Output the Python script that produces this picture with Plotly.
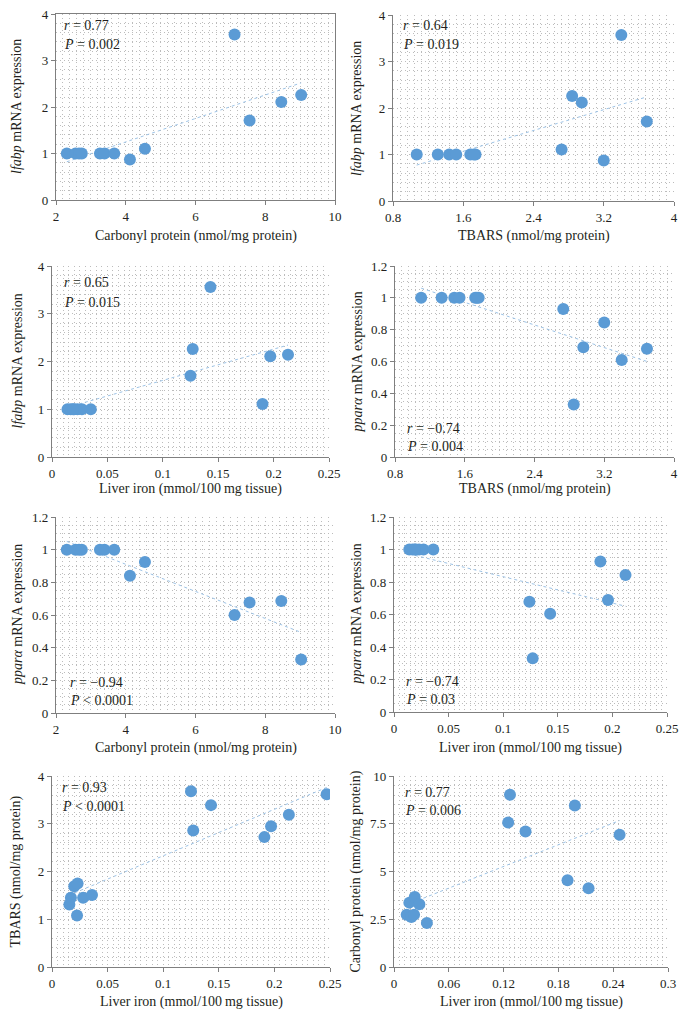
import numpy as np
import plotly.graph_objects as go

W, H = 684, 1017

# panel 1: carbonyl protein vs lfabp
carb_a = [2.31, 2.56, 2.66, 2.74, 3.26, 3.39, 3.67, 4.12, 4.55, 7.12, 7.55, 8.46, 9.03]
lfabp_a = [1.0, 1.0, 1.0, 1.0, 1.0, 1.0, 1.0, 0.87, 1.1, 3.56, 1.71, 2.11, 2.26]

# panel 2: TBARS vs lfabp
tbars_b = [1.07, 1.31, 1.44, 1.52, 1.68, 1.74, 1.72, 2.72, 2.84, 2.95, 3.20, 3.40, 3.69]
lfabp_b = [1.0, 1.0, 1.0, 1.0, 1.0, 1.0, 1.0, 1.11, 2.26, 2.12, 0.87, 3.57, 1.71]

# panel 3: liver iron vs lfabp
iron_c = [0.014, 0.017, 0.020, 0.023, 0.027, 0.035, 0.019, 0.125, 0.127, 0.143, 0.190, 0.197, 0.213]
lfabp_c = [1.0, 1.0, 1.0, 1.0, 1.0, 1.0, 1.0, 1.70, 2.26, 3.56, 1.11, 2.11, 2.14]

# panel 4: TBARS vs ppara
tbars_d = [1.10, 1.335, 1.48, 1.54, 1.72, 1.76, 1.74, 2.73, 2.85, 2.96, 3.20, 3.40, 3.69]
ppara_d = [1.0, 1.0, 1.0, 1.0, 1.0, 1.0, 1.0, 0.93, 0.33, 0.69, 0.845, 0.61, 0.68]

# panel 5: carbonyl protein vs ppara
carb_e = [2.31, 2.56, 2.66, 2.74, 3.26, 3.39, 3.67, 4.12, 4.55, 7.12, 7.55, 8.46, 9.03]
ppara_e = [1.0, 1.0, 1.0, 1.0, 1.0, 1.0, 1.0, 0.84, 0.925, 0.60, 0.676, 0.686, 0.327]

# panel 6: liver iron vs ppara
iron_f = [0.014, 0.017, 0.020, 0.023, 0.027, 0.036, 0.019, 0.124, 0.127, 0.143, 0.189, 0.196, 0.212]
ppara_f = [1.0, 1.0, 1.0, 1.0, 1.0, 1.0, 1.0, 0.679, 0.33, 0.605, 0.926, 0.689, 0.843]

# panel 7: liver iron vs TBARS
iron_g = [0.125, 0.143, 0.127, 0.191, 0.197, 0.213, 0.247, 0.020, 0.023, 0.017, 0.028, 0.036, 0.0156, 0.0225]
tbars_g = [3.68, 3.39, 2.86, 2.72, 2.95, 3.19, 3.62, 1.69, 1.75, 1.45, 1.45, 1.51, 1.31, 1.08]

# panel 8: liver iron vs carbonyl protein
iron_h = [0.127, 0.198, 0.125, 0.144, 0.247, 0.190, 0.213, 0.0168, 0.0227, 0.0278, 0.0139, 0.019, 0.022, 0.036]
carb_h = [9.02, 8.46, 7.56, 7.10, 6.93, 4.54, 4.12, 3.37, 3.66, 3.28, 2.74, 2.62, 2.74, 2.30]

r_text = ["0.77", "0.64", "0.65", "\u22120.74", "\u22120.94", "\u22120.74", "0.93", "0.77"]
p_text = ["= 0.002", "= 0.019", "= 0.015", "= 0.004", "< 0.0001", "= 0.03", "< 0.0001", "= 0.006"]

lfabp_title = "<i>lfabp</i> mRNA expression"
ppara_title = "<i>ppar\u03b1</i> mRNA expression"
carb_title = "Carbonyl protein (nmol/mg protein)"
tbars_title = "TBARS (nmol/mg protein)"
iron_title = "Liver iron (mmol/100\u2009mg tissue)"

FONT = "Liberation Serif"
BLUE = "#5b9bd5"
AXIS = "#7f7f7f"
GRID = "#bcbcbc"
TXT = "#231f20"

# (x, y, xtitle, ytitle, xrange, xdtick, xminor, yrange, ydtick, yminor,
#  box px [x0,x1,y0,y1], stats text px [x, y_r, y_p], title px [xtitle_y, ytitle_x])
panels = [
    (carb_a, lfabp_a, carb_title, lfabp_title, [2, 10], 2, 0.2, [0, 4], 1, 0.2, [56, 335, 14, 200], [62, 26, 45], [236, 17]),
    (tbars_b, lfabp_b, tbars_title, lfabp_title, [0.8, 4], 0.8, 0.08, [0, 4], 1, 0.2, [393, 674, 15, 201], [401, 26, 45], [236, 357]),
    (iron_c, lfabp_c, iron_title, lfabp_title, [0, 0.25], 0.05, 0.005, [0, 4], 1, 0.2, [52, 329, 266, 457], [62, 282, 302], [489, 17]),
    (tbars_d, ppara_d, tbars_title, ppara_title, [0.8, 4], 0.8, 0.08, [0, 1.2], 0.2, 0.05, [395, 674, 266, 457], [405, 428, 446], [489, 357]),
    (carb_e, ppara_e, carb_title, ppara_title, [2, 10], 2, 0.2, [0, 1.2], 0.2, 0.05, [56, 335, 517, 713], [68, 682, 700], [748, 17]),
    (iron_f, ppara_f, iron_title, ppara_title, [0, 0.25], 0.05, 0.005, [0, 1.2], 0.2, 0.05, [394, 667, 517, 712], [404, 681, 699], [748, 356]),
    (iron_g, tbars_g, iron_title, tbars_title, [0, 0.25], 0.05, 0.005, [0, 4], 1, 0.2, [52, 330, 776, 967], [60, 787, 806], [1002, 15]),
    (iron_h, carb_h, iron_title, carb_title, [0, 0.3], 0.06, 0.006, [0, 10], 2.5, 0.5, [394, 668, 776, 967], [403, 792, 810], [1002, 355]),
]

fig = go.Figure()
layout = dict(
    width=W, height=H, margin=dict(l=0, r=0, t=0, b=0),
    paper_bgcolor="white", plot_bgcolor="white", showlegend=False,
    font=dict(family=FONT, size=13, color=TXT),
)
annotations = []


def note(px, py, text, **kw):
    d = dict(x=px / W, y=1 - py / H, xref="paper", yref="paper", showarrow=False, text=text,
             font=dict(family=FONT, size=14, color=TXT))
    d.update(kw)
    annotations.append(d)


for i, (xs, ys, xt, yt, xr, xd, xm, yr, yd, ym, box, txt, tpos) in enumerate(panels):
    n = i + 1
    xa = "x" if n == 1 else f"x{n}"
    ya = "y" if n == 1 else f"y{n}"
    # linear trendline from the data
    k, b = np.polyfit(xs, ys, 1)
    tx = np.array([min(xs), max(xs)])
    fig.add_trace(go.Scatter(x=tx, y=k * tx + b, mode="lines", xaxis=xa, yaxis=ya,
                             line=dict(color="#9dc3e6", width=1, dash="dot"), hoverinfo="skip"))
    fig.add_trace(go.Scatter(x=xs, y=ys, mode="markers", xaxis=xa, yaxis=ya,
                             marker=dict(color=BLUE, size=12)))
    x0, x1, y0, y1 = box
    common = dict(showline=True, linecolor=AXIS, linewidth=1.2, ticks="outside", ticklen=4,
                  tickcolor=AXIS, zeroline=False, showgrid=True, gridcolor=GRID, griddash="1px,3px",
                  gridwidth=1, mirror=(n == 1), automargin=False, ticklabeloverflow="allow",
                  tickfont=dict(family=FONT, size=13, color=TXT))
    layout["xaxis" if n == 1 else f"xaxis{n}"] = dict(
        common, domain=[x0 / W, x1 / W], range=xr, dtick=xd, tick0=xr[0], anchor=ya,
        minor=dict(dtick=xm, showgrid=True, gridcolor=GRID, griddash="1px,3px", gridwidth=1, ticks=""),
    )
    layout["yaxis" if n == 1 else f"yaxis{n}"] = dict(
        common, domain=[1 - y1 / H, 1 - y0 / H], range=yr, dtick=yd, tick0=0, anchor=xa,
        minor=dict(dtick=ym, showgrid=True, gridcolor=GRID, griddash="1px,3px", gridwidth=1, ticks=""),
    )
    tx0, tyr, typ = txt
    note(tx0, tyr, f"<i>r</i> = {r_text[i]}", xanchor="left", yanchor="middle")
    note(tx0, typ, f"<i>P</i> {p_text[i]}", xanchor="left", yanchor="middle")
    # axis titles
    note((x0 + x1) / 2, tpos[0], xt, xanchor="center", yanchor="middle")
    note(tpos[1], (y0 + y1) / 2, yt, xanchor="center", yanchor="middle", textangle=-90)

layout["annotations"] = annotations
fig.update_layout(**layout)
# drop the browser's default body margin so the figure sits at the page corner
fig.write_html("out.html", config={"displayModeBar": False},
               post_script="document.body.style.margin='0px';")
